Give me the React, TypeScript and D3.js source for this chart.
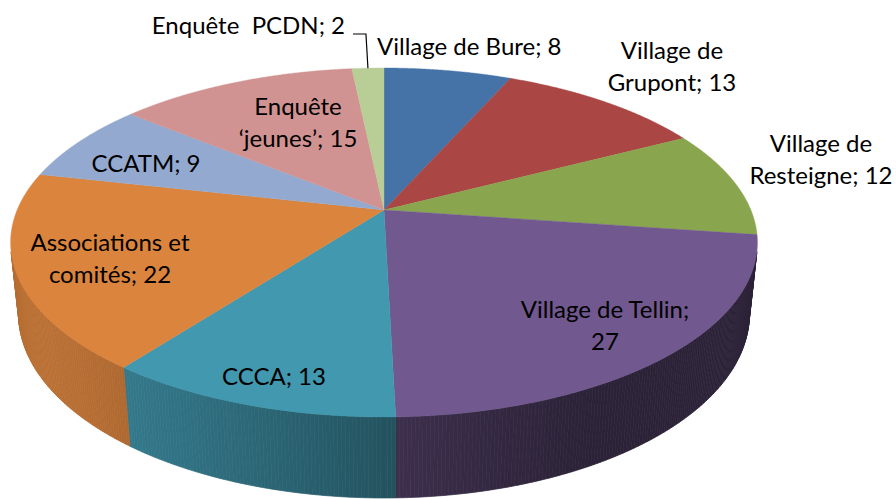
import React from 'react';
import * as d3 from 'd3';

const categories = [
  'Village de Bure', 'Village de Grupont', 'Village de Resteigne', 'Village de Tellin',
  'CCCA', 'Associations et comités', 'CCATM', 'Enquête ‘jeunes’', 'Enquête  PCDN',
];
const values = [8, 13, 12, 27, 13, 22, 9, 15, 2];
const labelLines = [
  ['Village de Bure; 8'],
  ['Village de', 'Grupont; 13'],
  ['Village de', 'Resteigne; 12'],
  ['Village de Tellin;', '27'],
  ['CCCA; 13'],
  ['Associations et', 'comités; 22'],
  ['CCATM; 9'],
  ['Enquête', '‘jeunes’; 15'],
  ['Enquête  PCDN; 2'],
];
const colors = ['#4572A7', '#AA4643', '#89A54E', '#71588F', '#4198AF', '#DB843D', '#93A9CF', '#D19392', '#B9CD96'];

// layout (label positions: x, first baseline y, anchor)
const labelLayout: [number, number, string][] = [
  [377, 55, 'start'],
  [672, 59, 'middle'],
  [821, 152, 'middle'],
  [605, 318, 'middle'],
  [274, 385, 'middle'],
  [110, 251, 'middle'],
  [146, 172, 'middle'],
  [298, 115, 'middle'],
  [345, 34, 'end'],
];

const W = 896, H = 499;
const CX = 384, CY = 210;
const SIN_T = 0.4591, COS_T = 0.8884, DIST = 4.77, FOC = 1750, DEPTH = 0.221;
const LINE_H = 31.5;

function project(phi: number, r: number, y: number): [number, number] {
  const X = r * Math.sin(phi);
  const Z = -r * Math.cos(phi);
  const u = X;
  const v = y * COS_T - Z * SIN_T;
  const w = DIST - Z * COS_T - y * SIN_T;
  return [CX + (FOC * u) / w, CY - (FOC * v) / w];
}

function shade(col: string, phi: number) {
  const d = phi - (240 * Math.PI) / 180;
  const c = Math.max(0, Math.cos(d));
  const k = 0.39 + 0.46 * Math.pow(c, 1.5);
  const rgb = d3.rgb(col);
  return d3.rgb(rgb.r * k, rgb.g * k, rgb.b * k).formatHex();
}

export default function App() {
  const pie = d3.pie<number>().sort(null).startAngle(0).endAngle(2 * Math.PI)(values);
  const line = d3.line();
  const visMin = Math.acos(-1 / (DIST * COS_T));
  const visMax = 2 * Math.PI - visMin;
  const step = (0.5 * Math.PI) / 180;

  const walls: JSX.Element[] = [];
  pie.forEach((a, i) => {
    const s0 = Math.max(a.startAngle, visMin);
    const s1 = Math.min(a.endAngle, visMax);
    if (s1 <= s0) return;
    const n = Math.max(1, Math.ceil((s1 - s0) / step));
    for (let j = 0; j < n; j++) {
      const p0 = s0 + ((s1 - s0) * j) / n;
      const p1 = s0 + ((s1 - s0) * (j + 1)) / n;
      const fill = shade(colors[i], (p0 + p1) / 2);
      const pts = [project(p0, 1, 0), project(p1, 1, 0), project(p1, 1, -DEPTH), project(p0, 1, -DEPTH)];
      walls.push(
        <path key={`w${i}-${j}`} d={line(pts) + 'Z'} fill={fill} stroke={fill} strokeWidth={0.7} />
      );
    }
  });

  const tops = pie.map((a, i) => {
    const n = Math.max(2, Math.ceil((a.endAngle - a.startAngle) / (0.25 * Math.PI / 180)));
    const pts: [number, number][] = [[CX, CY]];
    for (let j = 0; j <= n; j++) {
      const p = a.startAngle + ((a.endAngle - a.startAngle) * j) / n;
      pts.push(project(p, 1, 0));
    }
    return <path key={`t${i}`} d={line(pts) + 'Z'} fill={colors[i]} stroke={colors[i]} strokeWidth={0.4} />;
  });

  const last = pie[pie.length - 1];
  const tip = project((last.startAngle + last.endAngle) / 2, 1, 0);
  const lp = labelLayout[labelLayout.length - 1];
  const leader = line([[lp[0] + 8, lp[1]], [tip[0] - 2, lp[1]], tip]);

  return (
    <svg width={W} height={H} style={{ position: 'absolute', left: 0, top: 0 }}>
      <rect width={W} height={H} fill="#ffffff" />
      <g>{walls}</g>
      <g>{tops}</g>
      <path d={leader!} fill="none" stroke="#000" strokeWidth={1.2} />
      <g fontFamily="Lato, 'Open Sans', sans-serif" fontSize={24} fill="#000">
        {labelLines.map((lines, i) => (
          <text key={`l${i}`} x={labelLayout[i][0]} y={labelLayout[i][1]} textAnchor={labelLayout[i][2]} style={{ whiteSpace: 'pre' }}>
            {lines.map((ln, k) => (
              <tspan key={k} x={labelLayout[i][0]} dy={k === 0 ? 0 : LINE_H}>{ln}</tspan>
            ))}
          </text>
        ))}
      </g>
    </svg>
  );
}
